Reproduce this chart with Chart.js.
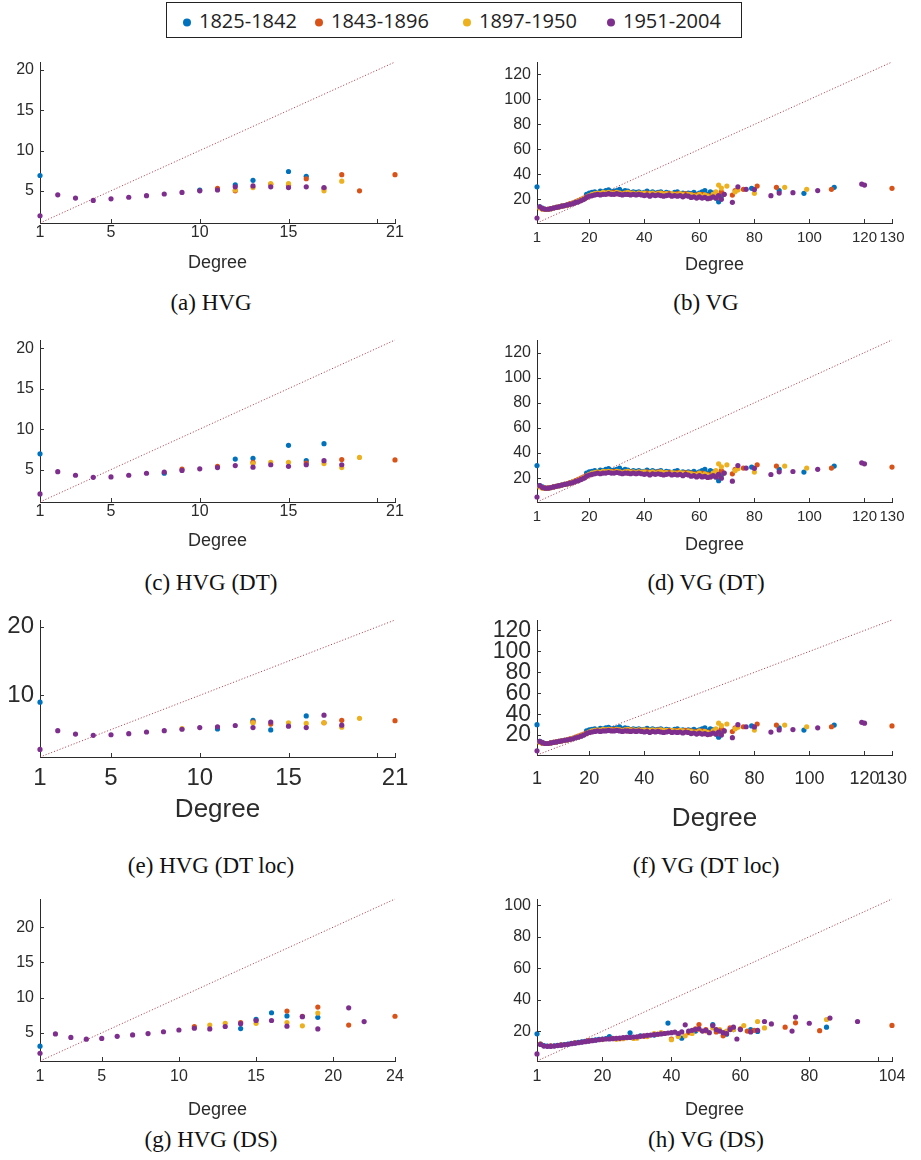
<!DOCTYPE html>
<html>
<head>
<meta charset="utf-8">
<script src="https://cdn.jsdelivr.net/npm/chart.js@4.4.0/dist/chart.umd.min.js"></script>
<style>
  html, body { margin: 0; background: #fff; overflow: hidden; }
  #page { position: relative; width: 921px; height: 1160px; overflow: hidden; }
  .panel { position: absolute; }
  .caption { position: absolute; transform: translate(-50%, -50%); font-family: "Liberation Serif", serif; font-size: 23px; color: #111; white-space: nowrap; }
  #legend { position: absolute; left: 166px; top: 2px; width: 576px; height: 36px; border: 1px solid #222; box-sizing: border-box; font-family: "Open Sans", sans-serif; font-size: 20px; color: #222; }
  .item { position: absolute; top: 50%; transform: translateY(-50%); white-space: nowrap; }
  .dot { display: inline-block; width: 8px; height: 8px; border-radius: 50%; margin-right: 8px; vertical-align: middle; }
</style>
</head>
<body>
<div id="page">
  <div id="legend"></div>
</div>
<script>
// periods shown in the legend, one colour each
const periods = ['1825-1842', '1843-1896', '1897-1950', '1951-2004'];
const colors = ['#0072BD', '#D95319', '#EDB120', '#7E2F8E'];

// HVG: [degree, mean neighbour degree] per period
const hvgA1825 = [[1, 6.9], [10, 5.1], [12, 5.75], [13, 6.3], [15, 7.4], [16, 6.8]];
const hvgA1843 = [[11, 5.3], [12, 5.0], [14, 5.8], [15, 5.7], [16, 6.5], [17, 5.3], [18, 7.0], [19, 5.0], [21, 7.0]];
const hvgA1897 = [[12, 5.1], [13, 5.4], [14, 5.9], [15, 5.9], [17, 5.0], [18, 6.2]];
const hvgA1951 = [[1, 1.9], [2, 4.5], [3, 4.1], [4, 3.8], [5, 4.0], [6, 4.2], [7, 4.4], [8, 4.6], [9, 4.8], [10, 5.0], [11, 5.1], [12, 5.5], [13, 5.6], [14, 5.5], [15, 5.4], [16, 5.5], [17, 5.4]];

const hvgC1825 = [[1, 6.95], [8, 4.55], [12, 6.3], [13, 6.4], [15, 8.0], [16, 6.1], [17, 8.2]];
const hvgC1843 = [[9, 5.05], [11, 5.4], [13, 5.9], [16, 5.8], [18, 6.25], [21, 6.2]];
const hvgC1897 = [[13, 5.75], [14, 5.9], [15, 5.9], [17, 5.75], [18, 5.25], [19, 6.5]];
const hvgC1951 = [[1, 2.0], [2, 4.75], [3, 4.3], [4, 4.05], [5, 4.1], [6, 4.3], [7, 4.55], [8, 4.7], [9, 4.9], [10, 5.1], [11, 5.25], [12, 5.5], [13, 5.3], [14, 5.6], [15, 5.4], [16, 5.6], [17, 6.1], [18, 5.6]];

const hvgE1825 = [[1, 9.0], [11, 5.1], [13, 6.35], [14, 4.95], [16, 7.0]];
const hvgE1843 = [[13, 6.1], [14, 5.8], [17, 6.0], [18, 6.35], [21, 6.3]];
const hvgE1897 = [[9, 5.15], [13, 6.0], [15, 6.0], [16, 5.9], [17, 6.0], [18, 5.35], [19, 6.65]];
const hvgE1951 = [[1, 2.1], [2, 4.85], [3, 4.35], [4, 4.17], [5, 4.25], [6, 4.4], [7, 4.65], [8, 4.85], [9, 5.05], [10, 5.3], [11, 5.4], [12, 5.6], [13, 5.3], [14, 6.1], [15, 5.5], [16, 5.3], [17, 7.1], [18, 5.65]];

const hvgG1825 = [[1, 3.1], [14, 5.6], [15, 6.9], [16, 7.85], [17, 7.4], [19, 7.2]];
const hvgG1843 = [[11, 5.9], [14, 6.45], [17, 8.1], [18, 7.35], [19, 8.65], [21, 6.1], [24, 7.35]];
const hvgG1897 = [[12, 6.1], [13, 6.35], [15, 6.35], [17, 6.45], [18, 6.0], [19, 7.8]];
const hvgG1951 = [[1, 2.1], [2, 4.85], [3, 4.35], [4, 4.1], [5, 4.2], [6, 4.5], [7, 4.7], [8, 4.9], [9, 5.15], [10, 5.4], [11, 5.65], [12, 5.55], [13, 5.9], [14, 6.3], [15, 6.75], [16, 6.75], [17, 5.95], [18, 7.3], [19, 5.55], [21, 8.55], [22, 6.6]];

// VG: values for degree 1, 2, 3 ... (null = no point), then the sparse tail
const vg1825Dense = [30, 14, 13, 12, 12, 12.5, 13, 13.5, 14, 14.5, 15, 15.5, 16, 17, 17.5, 18.5, 19.5, 20.5, 24, 25,
  25.5, 26, 25, 26.5, 26, 27, 27.5, 26, 26.5, 27, 28, 26, 27, 26.5, 25, 26, 25.5, 26, 25, 25.5,
  26.5, 25, 26, 25, 25.5, 26, 24.5, 25.5, 25, 24, 25.5, 26, 24.5, 25, 24, 25, 24.5, 25.5, 24, 25,
  26, 27, 24, 26, 25, 21, 18];
const vg1825Tail = [[68, 22.5], [79, 28.8], [89, 27], [98, 24.8], [109, 29.6]];
const vg1843Dense = [null, 13.5, 12.5, 12, 12, 12.5, 13, 13.5, 14, 14.5, 15, 15.5, 16.5, 17, 18, 19, 20, 21, 22, 23,
  23.5, 24, 24.5, 24.5, 25, 25, 24.5, 25, 25.5, 24.5, 25, 24.5, 25, 24, 25, 24.5, 24, 25, 24.5, 24,
  25, 24, 24.5, 24, 25, 24, 24.5, 23.5, 24.5, 24, 23.5, 24.5, 24, 23, 24.5, 23.5, 24, 22.5, 23.5, 22,
  24, 21.5, 23, 22, 24, 25, 22, 26, 24];
const vg1843Tail = [[72, 23.4], [73, 27], [76, 28], [81, 30.6], [88, 29.6], [108, 28], [130, 28.8]];
const vg1897Dense = [null, 13, 12, 12, 12, 12.5, 13, 13.5, 14, 14.5, 15, 15.5, 16, 17, 17.5, 18.5, 19.5, 20.5, 21.5, 23,
  24, 24.5, 25, 24.5, 25.5, 25, 25.5, 25, 24.5, 25.5, 25, 24, 25, 25.5, 24.5, 25, 24, 25, 24.5, 25,
  24, 24.5, 25, 24, 24.5, 25, 24, 24.5, 23.5, 24.5, 24, 23.5, 24.5, 24, 23, 24, 23.5, 23, 22.5, 24,
  22, 23.5, 22.5, 21, 24];
const vg1897Tail = [[66, 26], [67, 31.4], [68, 29], [70, 30.6], [73, 26], [74, 27.5], [80, 24.8], [91, 29.6], [99, 28]];
const vg1951Dense = [5, 14, 12.5, 12, 12, 12.5, 13, 13.5, 14, 14.5, 15, 15.5, 16, 16.5, 17.5, 18, 19, 20, 21.5, 22.5,
  23, 23.5, 24, 23.5, 24, 24, 24.5, 24, 24, 24.5, 24, 23.5, 24, 24, 23.5, 24, 23.5, 24, 23.5, 23,
  23.5, 22.5, 23.5, 23, 23.5, 23, 22.5, 23, 23.5, 22.5, 23, 22.5, 23, 22, 23, 22.5, 21.5, 22, 21, 22,
  21, 21.5, 20.5, 21, 22, 21, 23, 20];
const vg1951Tail = [[69, 24], [72, 17.6], [74, 30], [77, 28], [80, 27.8], [86, 22.9], [89, 25], [94, 25.3], [103, 27], [119, 32.2], [120, 31.4]];

// VG (DS)
const vgDs1825Dense = [18.3, 11.8, 10.8, 10.5, 10.5, 10.7, 11, 11.2, 11.5, 11.8, 12.2, 12.5, 12.8, 13.2, 13.5, 13.8, 14.1, 14.4, 14.7, 15, 15.3];
const vgDs1825Tail = [[22, 16.5], [28, 18.9], [31, 17], [35, 17.5], [39, 25.1], [43, 15.5], [47, 20], [52, 24.2], [56, 18], [58, 21], [63, 21], [65, 19.8], [85, 22.5]];
const vgDs1843 = [[2, 11.8], [5, 10.6], [8, 11.3], [12, 12.6], [16, 13.9], [20, 14.8], [23, 15.4], [25, 15.2], [27, 15.8], [30, 16], [32, 16.8], [33, 17.2], [36, 18], [38, 18.5], [40, 15], [42, 17], [45, 19], [47, 21.5], [48, 24.2], [50, 21], [53, 19.5], [55, 17], [57, 22], [60, 21.5], [62, 20], [64, 20.5], [73, 22.5], [76, 25.3], [83, 20.3], [104, 23.6]];
const vgDs1897 = [[20, 14.6], [24, 14.8], [26, 15.2], [29, 15.3], [30, 15.5], [33, 16.5], [35, 18.5], [37, 19], [40, 14.5], [42, 16.5], [44, 17], [46, 18.5], [48, 21], [50, 20], [52, 22], [54, 21], [56, 20], [58, 21], [61, 23.5], [65, 26.1], [67, 22], [85, 27.4]];
const vgDs1951Dense = [5.5, 11.5, 10.5, 10.3, 10.3, 10.5, 10.8, 11, 11.3, 11.6, 12, 12.3, 12.6, 13, 13.3, 13.6, 13.9, 14.2, 14.5, 14.8,
  15, 15, 15.2, 15.4, 15.6, 15.8, 16, 16, 16.2, 16.4, 16.7, 17, 17.3, 17.5, 17.8, 18, 18.2, 18.5, 18.8, 19,
  19.3, 18.5, 19.5, 24, 20, 20.5, 21, 21.5, 20, 20.5, 19, 23.5, 21, 20, 19, 18.5, 21, 22.5, 15, 21];
const vgDs1951Tail = [[63, 19.5], [65, 20.5], [67, 26.1], [69, 24.6], [75, 20], [76, 28.9], [80, 25], [86, 28.3], [94, 26.1]];

const toPoints = pairs => pairs.map(([x, y]) => ({ x, y }));
const fromDense = vals => vals.map((y, i) => ({ x: i + 1, y })).filter(p => p.y !== null);

const vgSeries = [
  fromDense(vg1825Dense).concat(toPoints(vg1825Tail)),
  fromDense(vg1843Dense).concat(toPoints(vg1843Tail)),
  fromDense(vg1897Dense).concat(toPoints(vg1897Tail)),
  fromDense(vg1951Dense).concat(toPoints(vg1951Tail))
];
const vgDsSeries = [
  fromDense(vgDs1825Dense).concat(toPoints(vgDs1825Tail)),
  toPoints(vgDs1843),
  toPoints(vgDs1897),
  fromDense(vgDs1951Dense).concat(toPoints(vgDs1951Tail))
];

// short tick marks pointing into the plot
const innerTicks = {
  id: 'innerTicks',
  afterDraw(chart, args, opts) {
    const { ctx, chartArea: a, scales: { x, y } } = chart;
    const len = opts.len || 4;
    ctx.save();
    ctx.strokeStyle = '#333';
    ctx.lineWidth = 1;
    ctx.beginPath();
    x.ticks.forEach(t => {
      if (t.value === x.min) return;
      const px = Math.round(x.getPixelForValue(t.value)) + 0.5;
      ctx.moveTo(px, a.bottom);
      ctx.lineTo(px, a.bottom - len);
    });
    y.ticks.forEach(t => {
      const py = Math.round(y.getPixelForValue(t.value)) + 0.5;
      ctx.moveTo(a.left, py);
      ctx.lineTo(a.left + len, py);
    });
    ctx.stroke();
    ctx.restore();
  }
};

const panels = [
  { caption: '(a) HVG', cx: 211, capY: 303, l: 40, r: 395, t: 62, b: 223, max: 21,
    xTicks: [1, 5, 10, 15, 20, 21], xSkip: [20], yTicks: [5, 10, 15, 20],
    xSize: 16, ySize: 16, titleSize: 18, xPad: 0, titleY: 263,
    series: [hvgA1825, hvgA1843, hvgA1897, hvgA1951].map(toPoints) },
  { caption: '(b) VG', cx: 706, capY: 303, l: 537, r: 892, t: 62, b: 223, max: 130,
    xTicks: [1, 20, 40, 60, 80, 100, 120, 130], xSkip: [], yTicks: [20, 40, 60, 80, 100, 120],
    xSize: 15, ySize: 16, titleSize: 18, xPad: 6, titleY: 265, series: vgSeries },
  { caption: '(c) HVG (DT)', cx: 211, capY: 583, l: 40, r: 395, t: 340, b: 502, max: 21,
    xTicks: [1, 5, 10, 15, 20, 21], xSkip: [20], yTicks: [5, 10, 15, 20],
    xSize: 16, ySize: 16, titleSize: 18, xPad: 0, titleY: 541,
    series: [hvgC1825, hvgC1843, hvgC1897, hvgC1951].map(toPoints) },
  { caption: '(d) VG (DT)', cx: 706, capY: 583, l: 537, r: 892, t: 340, b: 502, max: 130,
    xTicks: [1, 20, 40, 60, 80, 100, 120, 130], xSkip: [], yTicks: [20, 40, 60, 80, 100, 120],
    xSize: 15, ySize: 16, titleSize: 18, xPad: 6, titleY: 545, series: vgSeries },
  { caption: '(e) HVG (DT loc)', cx: 211, capY: 866, l: 40, r: 395, t: 620, b: 757, max: 21,
    xTicks: [1, 5, 10, 15, 20, 21], xSkip: [20], yTicks: [10, 20],
    xSize: 24, ySize: 24, titleSize: 26, xPad: 7, titleY: 809,
    series: [hvgE1825, hvgE1843, hvgE1897, hvgE1951].map(toPoints) },
  { caption: '(f) VG (DT loc)', cx: 706, capY: 866, l: 537, r: 892, t: 620, b: 755, max: 130,
    xTicks: [1, 20, 40, 60, 80, 100, 120, 130], xSkip: [], yTicks: [20, 40, 60, 80, 100, 120],
    xSize: 18, ySize: 23, titleSize: 26, xPad: 13, titleY: 818, series: vgSeries },
  { caption: '(g) HVG (DS)', cx: 211, capY: 1140, l: 40, r: 395, t: 899, b: 1061, max: 24,
    xTicks: [1, 5, 10, 15, 20, 24], xSkip: [], yTicks: [5, 10, 15, 20],
    xSize: 16, ySize: 16, titleSize: 18, xPad: 6, titleY: 1110,
    series: [hvgG1825, hvgG1843, hvgG1897, hvgG1951].map(toPoints) },
  { caption: '(h) VG (DS)', cx: 706, capY: 1140, l: 537, r: 892, t: 899, b: 1061, max: 104,
    xTicks: [1, 20, 40, 60, 80, 100, 104], xSkip: [100], yTicks: [20, 40, 60, 80, 100],
    xSize: 16, ySize: 16, titleSize: 18, xPad: 6, titleY: 1110, series: vgDsSeries }
];

const page = document.getElementById('page');
const FONT = '"Liberation Sans", Arial, sans-serif';
const INK = '#2b2b2b';

// legend box across the top
const legend = document.getElementById('legend');
const legendLeft = [16, 148, 296, 440];
periods.forEach((p, i) => {
  const item = document.createElement('div');
  item.className = 'item';
  item.style.left = legendLeft[i] + 'px';
  item.innerHTML = '<span class="dot" style="background:' + colors[i] + '"></span>' + p;
  legend.appendChild(item);
});

panels.forEach(p => {
  const yw = p.l < 400 ? 40 : 80;
  const padT = 30, padR = 40;
  const xh = Math.round(p.titleY + p.titleSize * 0.6 - p.b);
  const w = yw + (p.r - p.l) + padR;
  const h = padT + (p.b - p.t) + xh;

  const holder = document.createElement('div');
  holder.className = 'panel';
  holder.style.left = (p.l - yw) + 'px';
  holder.style.top = (p.t - padT) + 'px';
  const cv = document.createElement('canvas');
  cv.width = w;
  cv.height = h;
  cv.style.width = w + 'px';
  cv.style.height = h + 'px';
  holder.appendChild(cv);
  page.appendChild(holder);

  const cap = document.createElement('div');
  cap.className = 'caption';
  cap.style.left = p.cx + 'px';
  cap.style.top = p.capY + 'px';
  cap.textContent = p.caption;
  page.appendChild(cap);

  const datasets = p.series.map((pts, i) => ({
    label: periods[i],
    data: pts,
    backgroundColor: colors[i],
    borderWidth: 0,
    pointRadius: 2.6,
    order: 4 - i,
    clip: false
  }));
  // dotted reference line y = x
  datasets.push({
    type: 'line',
    label: 'y = x',
    data: [{ x: 1, y: 1 }, { x: p.max, y: p.max }],
    borderColor: 'rgba(165, 30, 45, 0.9)',
    borderWidth: 1,
    borderDash: [1, 2],
    pointRadius: 0,
    fill: false,
    order: 5,
    clip: false
  });

  new Chart(cv, {
    type: 'scatter',
    data: { datasets },
    plugins: [innerTicks],
    options: {
      responsive: false,
      animation: false,
      devicePixelRatio: 1,
      layout: { padding: { top: padT, right: padR, left: 0, bottom: 0 } },
      plugins: {
        legend: { display: false },
        tooltip: { enabled: false },
        innerTicks: { len: 4 }
      },
      scales: {
        x: {
          type: 'linear',
          min: 1,
          max: p.max,
          grid: { display: false, drawTicks: false },
          border: { display: true, color: INK, width: 1 },
          ticks: {
            autoSkip: false,
            maxRotation: 0,
            padding: p.xPad,
            color: INK,
            font: { family: FONT, size: p.xSize },
            callback: v => (p.xSkip.includes(v) ? '' : String(v))
          },
          afterBuildTicks: s => { s.ticks = p.xTicks.map(v => ({ value: v })); },
          afterFit: s => { s.height = xh; },
          title: {
            display: true,
            text: 'Degree',
            color: INK,
            padding: 0,
            font: { family: FONT, size: p.titleSize }
          }
        },
        y: {
          type: 'linear',
          min: 1,
          max: p.max,
          grid: { display: false, drawTicks: false },
          border: { display: true, color: INK, width: 1 },
          ticks: {
            autoSkip: false,
            padding: 6,
            color: INK,
            font: { family: FONT, size: p.ySize },
            callback: v => String(v)
          },
          afterBuildTicks: s => { s.ticks = p.yTicks.map(v => ({ value: v })); },
          afterFit: s => { s.width = yw; }
        }
      }
    }
  });
});
</script>
</body>
</html>
